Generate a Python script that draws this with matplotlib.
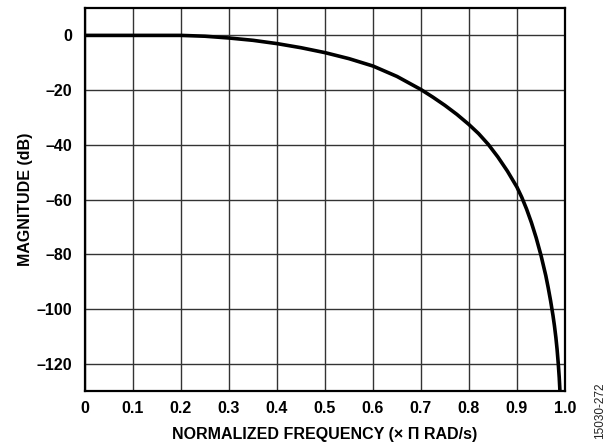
import matplotlib
matplotlib.use("Agg")
import matplotlib.pyplot as plt

# magnitude response
freq = [0.0, 0.1, 0.15, 0.2, 0.25, 0.3, 0.35, 0.4, 0.45, 0.5, 0.55, 0.6, 0.65, 0.7,
        0.725, 0.75, 0.775, 0.8, 0.82, 0.84, 0.86, 0.88, 0.9, 0.91, 0.92, 0.93,
        0.94, 0.95, 0.96, 0.965, 0.97, 0.975, 0.978, 0.981, 0.9835, 0.986, 0.988, 0.9895]
mag_db = [0.0, 0.0, 0.0, 0.0, -0.3, -0.95, -1.8, -3.0, -4.5, -6.3, -8.5, -11.2, -15.0, -19.8,
          -22.6, -25.6, -28.9, -32.6, -35.9, -39.8, -44.4, -49.6, -55.5, -59.2, -63.5, -68.4,
          -74.0, -80.4, -87.8, -92.2, -97.0, -102.4, -106.1, -110.4, -114.7, -120.0, -125.0, -130.0]

x_ticks = [0, 0.1, 0.2, 0.3, 0.4, 0.5, 0.6, 0.7, 0.8, 0.9, 1.0]
x_labels = ["0", "0.1", "0.2", "0.3", "0.4", "0.5", "0.6", "0.7", "0.8", "0.9", "1.0"]
y_ticks = [0, -20, -40, -60, -80, -100, -120]
y_labels = ["0", "\u201320", "\u201340", "\u201360", "\u201380", "\u2013100", "\u2013120"]

plt.rcParams["font.family"] = ["Liberation Sans", "DejaVu Sans"]

fig = plt.figure(figsize=(6.1, 4.47), dpi=100)
ax = fig.add_axes([0.1393, 0.1253, 0.7869, 0.8567])

ax.plot(freq, mag_db, color="black", lw=2.6, solid_capstyle="butt", solid_joinstyle="round")

ax.set_xlim(0, 1.0)
ax.set_ylim(-130, 10)
ax.set_xticks(x_ticks)
ax.set_xticklabels(x_labels, fontweight="bold", fontsize=11.5)
ax.set_yticks(y_ticks)
ax.set_yticklabels(y_labels, fontweight="bold", fontsize=11.5)
ax.tick_params(axis="both", length=0)
ax.tick_params(axis="x", pad=7)
ax.tick_params(axis="y", pad=9)
ax.grid(True, color="#333333", lw=1.0)
for s in ax.spines.values():
    s.set_linewidth(1.6)
    s.set_color("black")

ax.set_xlabel("NORMALIZED FREQUENCY (\u00d7 \u03a0 RAD/s)", fontweight="bold", fontsize=11.5, labelpad=8)
ax.set_ylabel("MAGNITUDE (dB)", fontweight="bold", fontsize=11.5, labelpad=3)

fig.text(0.983, 0.08, "15030-272", rotation=90, fontsize=8.5, ha="center", va="center", color="#222222")

fig.savefig("out.png", dpi=100)
